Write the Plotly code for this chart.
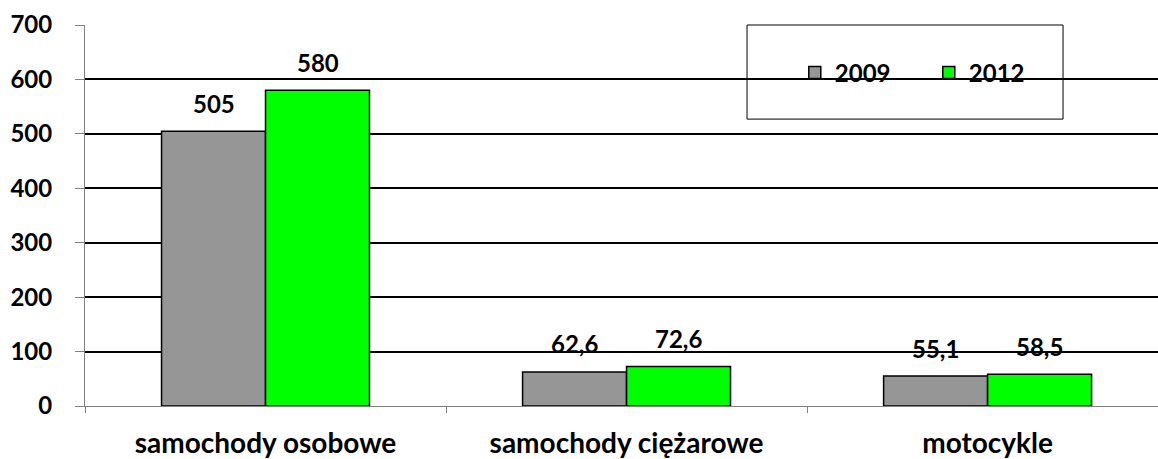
import plotly.graph_objects as go

categories = ["samochody osobowe", "samochody ciężarowe", "motocykle"]
series_names = ["2009", "2012"]
values_2009 = [505, 62.6, 55.1]
values_2012 = [580, 72.6, 58.5]
y_ticks = [0, 100, 200, 300, 400, 500, 600, 700]

FONT = "Lato"
NUM_SIZE = 24
CAT_SIZE = 28
colors = {"2009": "#969696", "2012": "#00FF00"}

fig = go.Figure()
for name, vals in zip(series_names, [values_2009, values_2012]):
    fig.add_trace(go.Bar(
        x=categories, y=vals, name=name,
        marker=dict(color=colors[name], line=dict(color="black", width=1.5)),
    ))

def fmt(v):
    s = f"{v:g}"
    return s.replace(".", ",")

annotations = []
for i, (name, vals) in enumerate(zip(series_names, [values_2009, values_2012])):
    shift = -52 if i == 0 else 52
    for c, v in zip(categories, vals):
        annotations.append(dict(
            x=c, y=v, xref="x", yref="y", text=fmt(v), showarrow=False,
            xshift=shift, yshift=28, yanchor="middle",
            font=dict(family=FONT, size=NUM_SIZE, color="black", weight="bold"),
        ))

fig.update_layout(
    width=1158, height=459,
    margin=dict(l=85, r=0, t=25, b=53),
    paper_bgcolor="white", plot_bgcolor="white",
    barmode="group", bargap=0.424, bargroupgap=0,
    font=dict(family=FONT, size=20, color="black", weight="bold"),
    showlegend=True,
    legend=dict(
        orientation="h", x=0.6615, y=0.874, xanchor="left", yanchor="middle",
        bgcolor="rgba(0,0,0,0)", borderwidth=0, itemwidth=30, entrywidth=89,
        font=dict(family=FONT, size=24, color="black", weight="bold"),
    ),
    annotations=annotations,
    shapes=[dict(type="rect", xref="paper", yref="paper",
                 x0=0.617, x1=0.9115, y0=0.753, y1=1.0,
                 line=dict(color="black", width=1), fillcolor="rgba(0,0,0,0)",
                 layer="above")],
    xaxis=dict(
        range=[-0.5, 2.472], tickson="boundaries", ticks="outside", ticklen=6,
        tickcolor="#808080", showline=True, linecolor="#808080", linewidth=1,
        showgrid=False, ticklabelstandoff=12, automargin=False,
        tickfont=dict(family=FONT, size=CAT_SIZE, color="black", weight="bold"),
    ),
    yaxis=dict(
        range=[0, 700], tickvals=y_ticks, ticks="outside", ticklen=9,
        tickcolor="#808080", showline=True, linecolor="#808080", linewidth=1,
        showgrid=True, gridcolor="black", gridwidth=2,
        zeroline=True, zerolinecolor="#808080", zerolinewidth=1,
        ticklabelstandoff=18, automargin=False,
        tickfont=dict(family=FONT, size=NUM_SIZE, color="black", weight="bold"),
    ),
)

fig.write_html(
    "out.html",
    config={"displayModeBar": False},
    post_script="document.body.style.margin='0';document.body.style.overflow='hidden';",
)
